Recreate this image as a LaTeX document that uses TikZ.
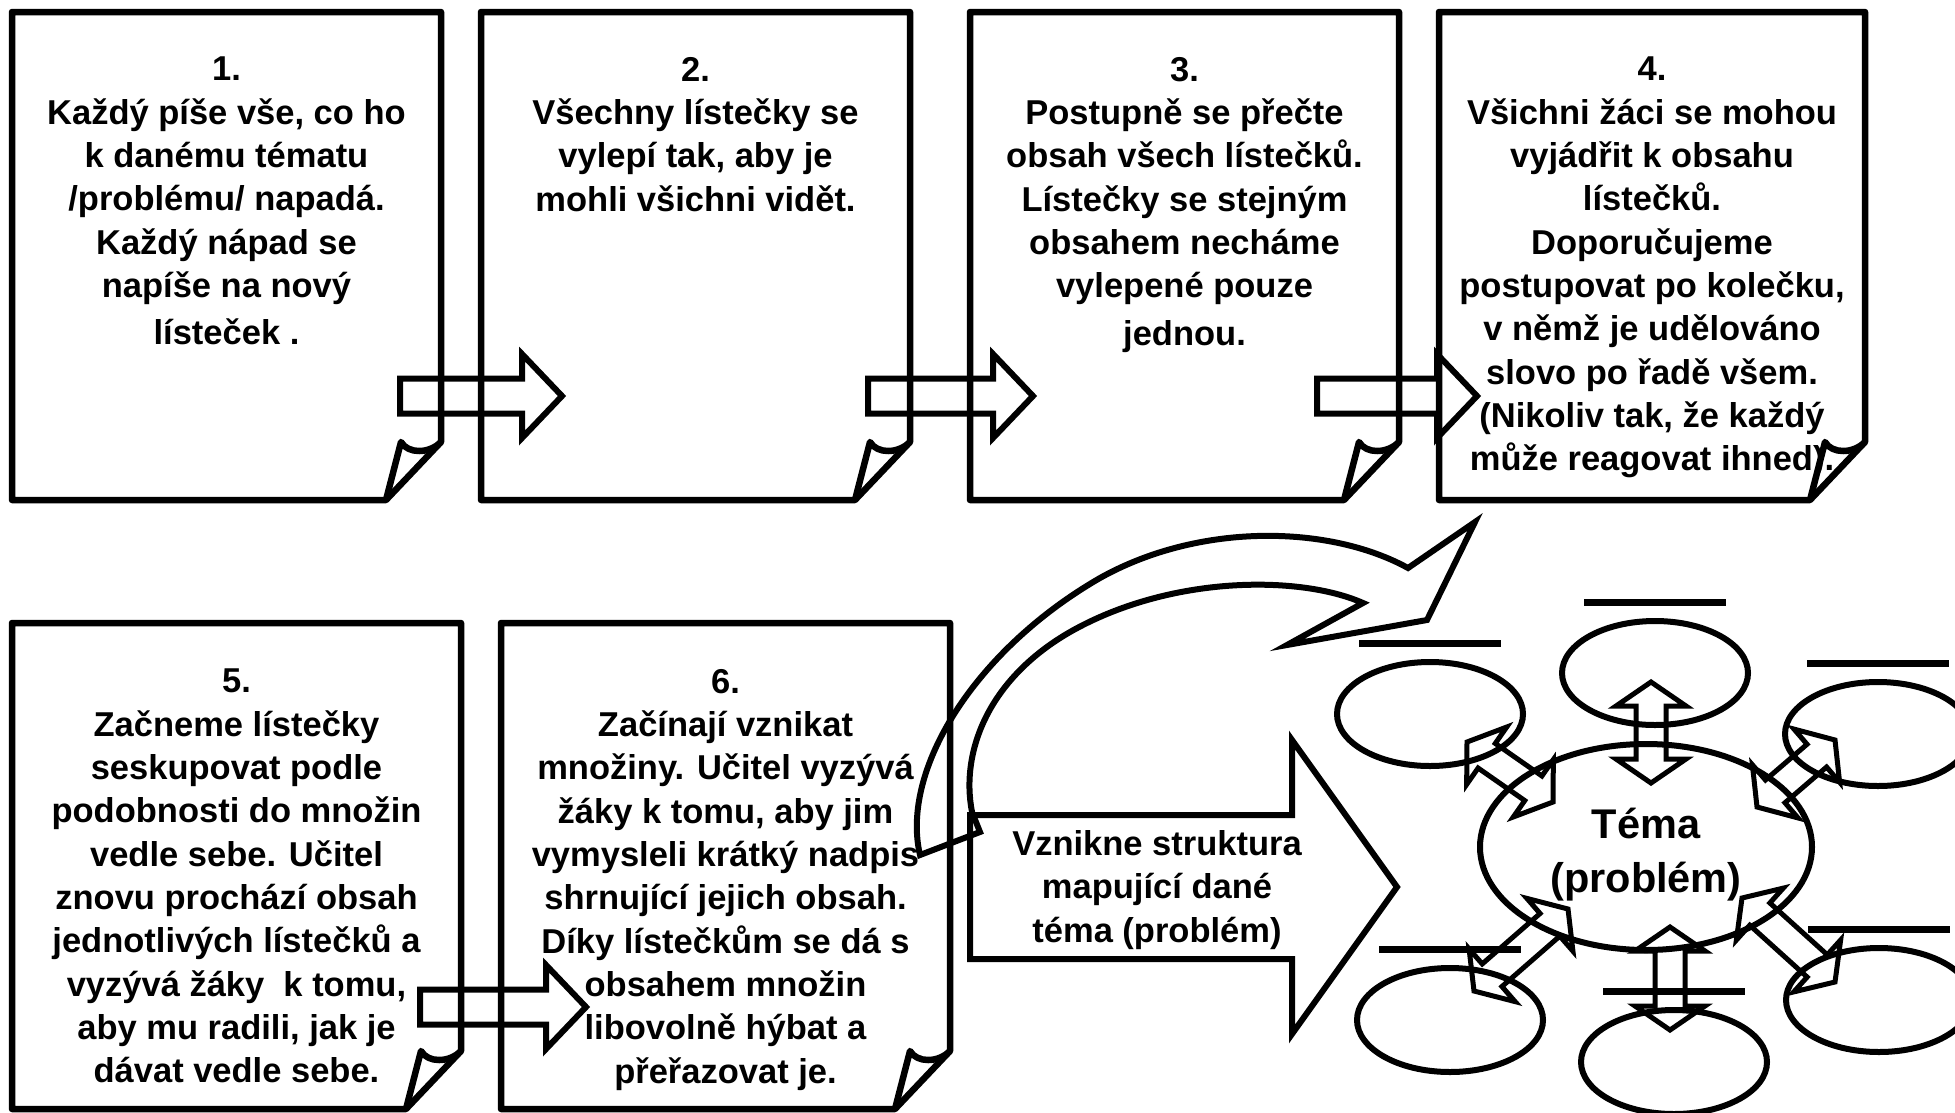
\documentclass[tikz,border=0pt]{standalone}
\usepackage{fontspec}
\setmainfont{Liberation Sans}
\usepackage{tikz}
\usetikzlibrary{
  positioning,
  calc,
  shapes.geometric
}

% bloková šipka: odkud, kam, půl těla, půl hrotu, délka hrotu
\newcommand{\blokSipka}[5]{%
  \coordinate (hb) at ($(#2)!#5!(#1)$);
  \draw[sipka] ($(#1)!#3!90:(#2)$) -- ($(hb)!#3!90:(#2)$) -- ($(hb)!#4!90:(#2)$) -- (#2)
    -- ($(hb)!#4!-90:(#2)$) -- ($(hb)!#3!-90:(#2)$) -- ($(#1)!#3!-90:(#2)$) -- cycle;
}
% obousměrná šipka
\newcommand{\dvojSipka}[5]{%
  \coordinate (ha) at ($(#1)!#5!(#2)$);
  \coordinate (hb) at ($(#2)!#5!(#1)$);
  \draw[dvoj] (#1) -- ($(ha)!#4!90:(#2)$) -- ($(ha)!#3!90:(#2)$) -- ($(hb)!#3!90:(#2)$)
    -- ($(hb)!#4!90:(#2)$) -- (#2) -- ($(hb)!#4!-90:(#2)$) -- ($(hb)!#3!-90:(#2)$)
    -- ($(ha)!#3!-90:(#2)$) -- ($(ha)!#4!-90:(#2)$) -- cycle;
}

\begin{document}
\begin{tikzpicture}[x=1pt, y=-1pt,
    listek/.style 2 args={minimum width=#1, minimum height=#2, inner sep=0, outer sep=0, anchor=north west},
    okraj/.style={line width=6.5pt, line join=round},
    napis/.style={align=center, inner sep=0, anchor=north, font=\fontsize{34.5}{43.3}\selectfont\bfseries},
    sipka/.style={line width=6pt},
    dvoj/.style={line width=5pt},
    bublina/.style={ellipse, draw, line width=6pt, minimum width=186pt, minimum height=104pt, inner sep=0, outer sep=0},
    linka/.style={line width=7pt}]

    \useasboundingbox (0,0) rectangle (1955,1112);

    % lístečky
    \node[listek={429pt}{488pt}] (l1) at (12,12) {};
    \node[listek={429pt}{488pt}, right=40pt of l1] (l2) {};
    \node[listek={429pt}{488pt}, right=60pt of l2] (l3) {};
    \node[listek={426pt}{488pt}, right=40pt of l3] (l4) {};
    \node[listek={449pt}{486pt}] (l5) at (12,623) {};
    \node[listek={449pt}{486pt}, right=40pt of l5] (l6) {};

    % okraje s ohnutým rohem
    \foreach \i in {1,...,6}{
        \draw[okraj] (l\i.north west) -- (l\i.north east) -- ($(l\i.south east)+(0,-58)$) coordinate (A)
            -- ($(l\i.south east)+(-55,0)$) coordinate (B) -- (l\i.south west) -- cycle;
        \draw[okraj] (B) -- ($(l\i.south east)+(-40,-58)$)
            .. controls ($(l\i.south east)+(-33,-46)$) and ($(l\i.south east)+(-12,-46)$) .. (A);
    }

    % texty
    \node[napis, below=45pt of l1.north] (t1) {1.\\Každý píše vše, co ho\\k danému tématu\\/problému/ napadá.\\Každý nápad se\\napíše na nový\\[4pt]lísteček .};
    \node[napis, below=45pt of l2.north] (t2) {2.\\Všechny lístečky se\\vylepí tak, aby je\\mohli všichni vidět.};
    \node[napis, below=45pt of l3.north] (t3) {3.\\Postupně se přečte\\obsah všech lístečků.\\Lístečky se stejným\\obsahem necháme\\vylepené pouze\\[4pt]jednou.};
    \node[napis, below=45pt of l4.north] (t4) {4.\\Všichni žáci se mohou\\vyjádřit k obsahu\\lístečků.\\Doporučujeme\\postupovat po kolečku,\\v němž je udělováno\\slovo po řadě všem.\\(Nikoliv tak, že každý\\může reagovat ihned).};
    \node[napis, below=46pt of l5.north] (t5) {5.\\Začneme lístečky\\seskupovat podle\\podobnosti do množin\\vedle sebe. Učitel\\znovu prochází obsah\\jednotlivých lístečků a\\vyzývá žáky\ \ k tomu,\\aby mu radili, jak je\\dávat vedle sebe.};
    \node[napis, below=46pt of l6.north] (t6) {6.\\Začínají vznikat\\množiny. Učitel vyzývá\\žáky k tomu, aby jim\\vymysleli krátký nadpis\\shrnující jejich obsah.\\Díky lístečkům se dá s\\obsahem množin\\libovolně hýbat a\\přeřazovat je.};

    % šipky mezi lístečky
    \coordinate (pa1) at (400,396);  \coordinate (pb1) at (562,396);
    \coordinate (pa2) at (868,396);  \coordinate (pb2) at (1033,396);
    \coordinate (pa3) at (1317,396); \coordinate (pb3) at (1477,396);
    \coordinate (pa4) at (420,1007); \coordinate (pb4) at (586,1007);
    \foreach \i in {1,...,4}{\blokSipka{pa\i}{pb\i}{17.5pt}{42pt}{40pt}}

    % velká šipka
    \coordinate (va) at (970,887);
    \coordinate (vb) at (1397,887);
    \blokSipka{va}{vb}{72pt}{147pt}{105pt}
    \node[napis, anchor=center] (vz) at (1157,890) {Vznikne struktura\\mapující dané\\téma (problém)};

    % zahnutá šipka
    \draw[sipka] (920,855) .. controls (900,770) and (975,650) .. (1100,578)
        .. controls (1200,522) and (1330,525) .. (1408,568) -- (1475,522) -- (1427,620)
        -- (1287,645) -- (1363,603)
        .. controls (1300,575) and (1170,575) .. (1070,632)
        .. controls (990,678) and (960,750) .. (972,812) -- (980,832) -- cycle;

    % téma a bubliny
    \node[ellipse, draw, line width=6pt, minimum width=332pt, minimum height=206pt, inner sep=0] (tema) at (1646,847) {};
    \node[align=center, inner sep=0, font=\fontsize{41.5}{54}\selectfont\bfseries] (tnapis) at (1646,855) {Téma\\(problém)};
    \foreach \e/\pos in {etop/{1655,673}, eul/{1430,714}, eur/{1878,734}, ell/{1450,1020}, elr/{1879,1000}, ebot/{1674,1062}}{
        \node[bublina] (\e) at (\pos) {};
        \draw[linka] ($(\e.north)+(-71,-19)$) -- ++(142,0);
    }

    % obousměrné šipky
    \coordinate (da1) at (1651,783); \coordinate (db1) at (1651,682);
    \coordinate (da2) at (1757,807); \coordinate (db2) at (1835,740);
    \coordinate (da3) at (1553,802); \coordinate (db3) at (1467,742);
    \coordinate (da4) at (1568,909); \coordinate (db4) at (1474,991);
    \coordinate (da5) at (1742,898); \coordinate (db5) at (1835,982);
    \coordinate (da6) at (1670,927); \coordinate (db6) at (1670,1030);
    \foreach \i in {1,...,6}{\dvojSipka{da\i}{db\i}{15pt}{35pt}{24pt}}
\end{tikzpicture}
\end{document}
